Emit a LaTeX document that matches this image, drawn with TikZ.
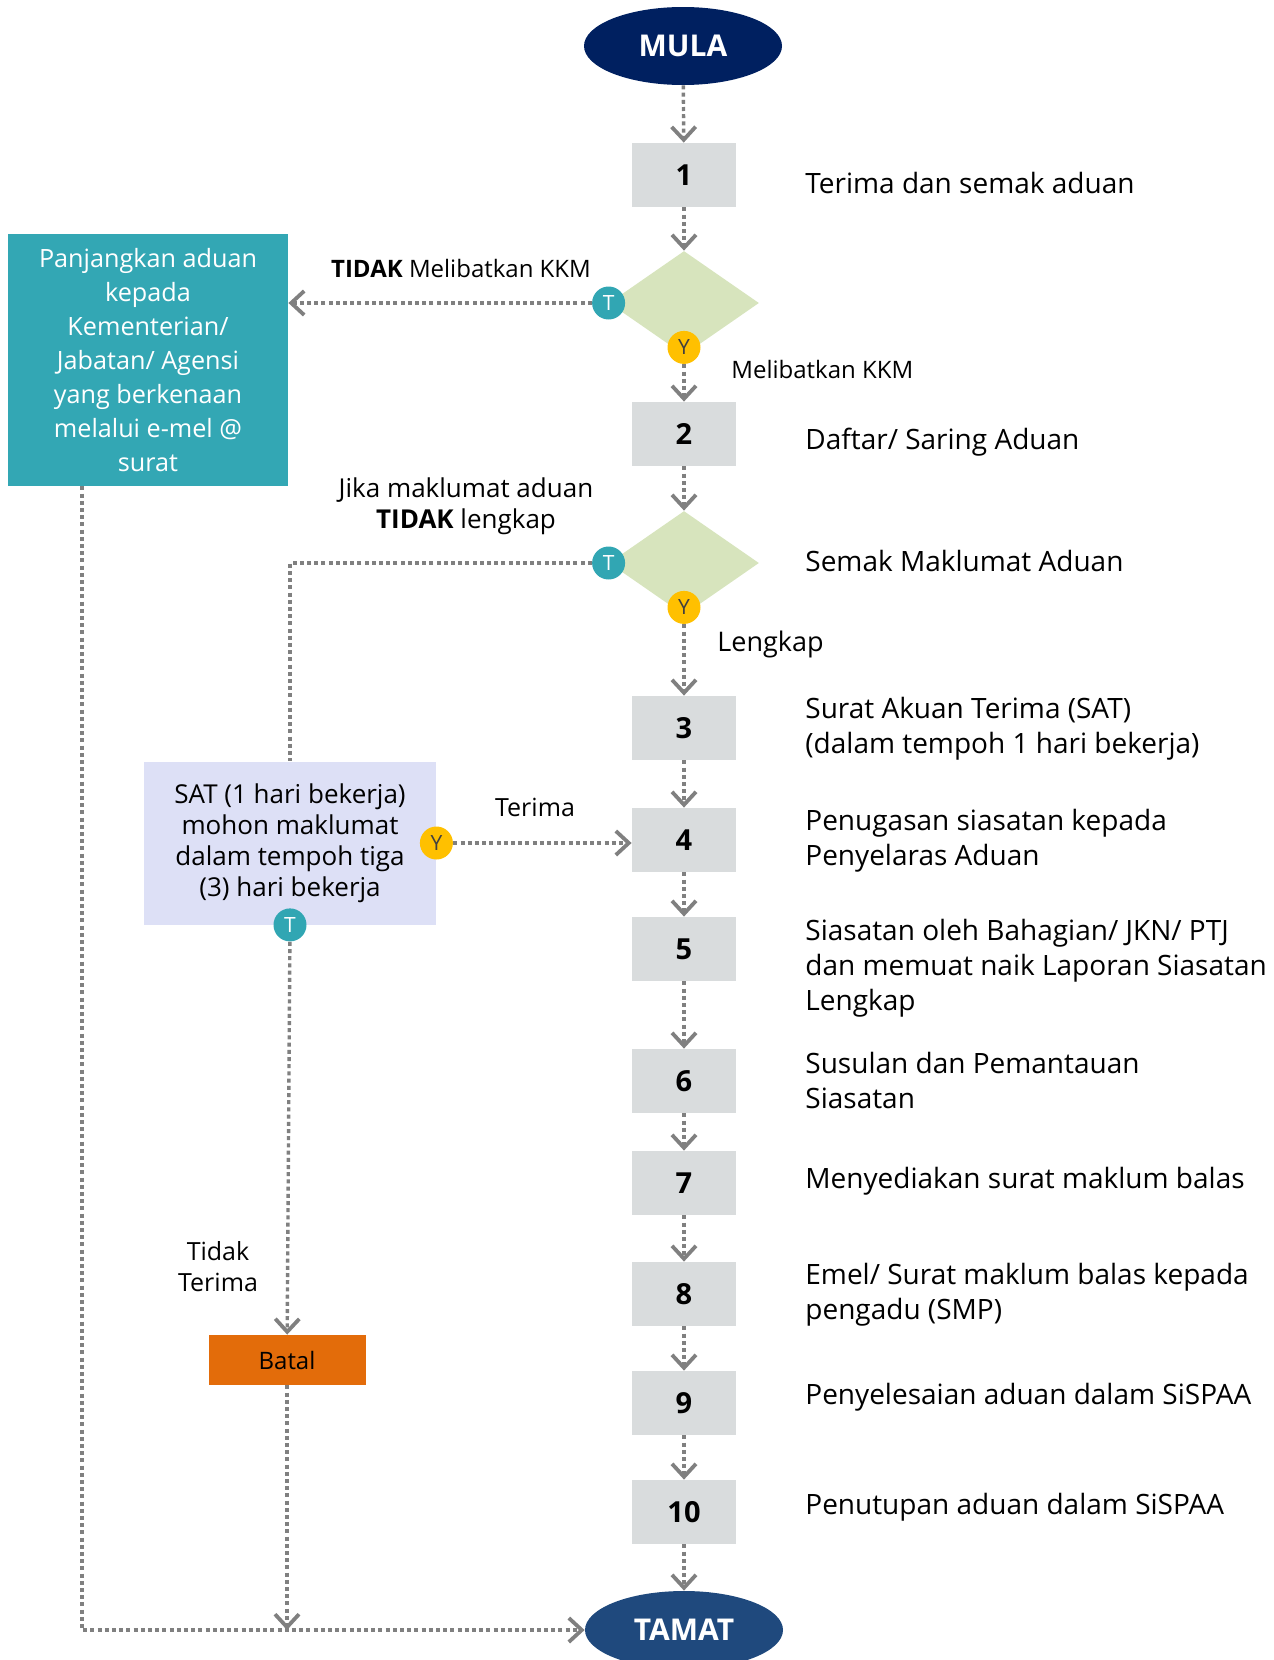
\documentclass[tikz,border=0pt]{standalone}
\usepackage{fontspec}
\setmainfont{Open Sans}
\usetikzlibrary{positioning}
\usetikzlibrary{shapes.geometric}
\usetikzlibrary{arrows.meta}
\definecolor{mulablue}{RGB}{0,32,96}
\definecolor{tamatblue}{RGB}{31,73,125}
\definecolor{boxgrey}{RGB}{217,220,221}
\definecolor{diagreen}{RGB}{215,228,189}
\definecolor{tealfill}{RGB}{51,167,180}
\definecolor{notteal}{RGB}{49,166,179}
\definecolor{yesgold}{RGB}{255,192,0}
\definecolor{satfill}{RGB}{221,224,246}
\definecolor{batalfill}{RGB}{227,108,10}
\definecolor{flowgrey}{RGB}{128,128,128}

\begin{document}
\begin{tikzpicture}[x=0.5pt,y=-0.5pt]
		\tikzset{>={Straight Barb[length=6.5pt,width=12pt,line width=1.9pt]}}
		\tikzset{
			flow/.style={draw=flowgrey,line width=1.7pt,dash pattern=on 2pt off 1.6pt},
			endpoint/.style={ellipse,text=white,minimum width=99pt,minimum height=39pt,inner sep=0pt,font=\fontsize{15}{18}\selectfont\bfseries},
			stepbox/.style={fill=boxgrey,minimum width=52pt,minimum height=32pt,inner sep=0pt,font=\fontsize{14.5}{18}\selectfont\bfseries},
			decision/.style={diamond,fill=diagreen,minimum width=75pt,minimum height=52pt,inner sep=0pt},
			tdot/.style={circle,fill=notteal,text=white,minimum size=16.5pt,inner sep=0pt,font=\fontsize{10.5}{10}\selectfont},
			ydot/.style={circle,fill=yesgold,text=black!75,minimum size=16.5pt,inner sep=0pt,font=\fontsize{10.5}{10}\selectfont},
			desc/.style={anchor=west,align=left,inner sep=0pt,font=\fontsize{14}{17.5}\selectfont},
			note/.style={align=center,inner sep=0pt,font=\fontsize{12.5}{15.5}\selectfont}
		}
		\useasboundingbox (0,0) rectangle (1274,1660);
		
		% main column
		\node[endpoint,fill=mulablue] (mula) at (683,46) {MULA};
		\node[stepbox] (s1) at (684,175) {1};
		\node[decision] (d1) at (684,303) {};
		\node[stepbox] (s2) at (684,434) {2};
		\node[decision] (d2) at (684,563) {};
		\node[stepbox] (s3) at (684,728) {3};
		\node[stepbox] (s4) at (684,840) {4};
		\node[stepbox] (s5) at (684,949) {5};
		\node[stepbox] (s6) at (684,1081) {6};
		\node[stepbox] (s7) at (684,1183) {7};
		\node[stepbox] (s8) at (684,1294) {8};
		\node[stepbox] (s9) at (684,1403) {9};
		\node[stepbox] (s10) at (684,1512) {10};
		\node[endpoint,fill=tamatblue] (tamat) at (684,1630) {TAMAT};
		
		% side boxes
		\node[fill=tealfill,text=white,minimum width=140pt,minimum height=126pt,inner sep=0pt,align=center,
			font=\fontsize{12.6}{17}\selectfont] (teal) at (148,360)
			{Panjangkan aduan\\kepada\\Kementerian/\\Jabatan/ Agensi\\yang berkenaan\\melalui e-mel @\\surat};
		\node[fill=satfill,minimum width=146pt,minimum height=81.5pt,inner sep=0pt,align=center,
			font=\fontsize{13}{15.5}\selectfont] (sat) at (290,843)
			{SAT (1 hari bekerja)\\mohon maklumat\\dalam tempoh tiga\\(3) hari bekerja};
		\node[fill=batalfill,minimum width=78.5pt,minimum height=25pt,inner sep=0pt,
			font=\fontsize{12}{14}\selectfont] (batal) at (287,1360) {Batal};
		
		% T / Y markers
		\node[tdot] (d1t) at (d1.west) {T};
		\node[ydot] (d1y) at ([yshift=4pt]d1.south) {Y};
		\node[tdot] (d2t) at (d2.west) {T};
		\node[ydot] (d2y) at ([yshift=4pt]d2.south) {Y};
		\node[ydot] (saty) at (sat.east) {Y};
		\node[tdot] (satt) at (sat.south) {T};
		
		% connectors
		\draw[flow,->] (mula) -- (s1);
		\draw[flow,->] (s1) -- (d1);
		\draw[flow,->] (d1t) -- (d1t -| teal.east);
		\draw[flow,->] (d1y) -- (s2);
		\draw[flow,->] (s2) -- (d2);
		\draw[flow] (d2t) -| (sat);
		\draw[flow,->] (d2y) -- (s3);
		\foreach \a/\b in {s3/s4,s4/s5,s5/s6,s6/s7,s7/s8,s8/s9,s9/s10,s10/tamat}
			\draw[flow,->] (\a) -- (\b);
		\draw[flow,->] (saty) -- (saty -| s4.west);
		\draw[flow,->] (satt) -- (batal);
		\draw[flow,->] (batal) -- (batal |- tamat);
		\draw[flow,->] ([xshift=-33pt]teal.south) |- (tamat);
		
		% descriptions
		\node[desc] (t1) at (805,183) {Terima dan semak aduan};
		\node[desc] (t2) at (805,442) {Daftar/ Saring Aduan};
		\node[desc] (t2b) at (805,561) {Semak Maklumat Aduan};
		\node[desc] (t3) at (805,729) {Surat Akuan Terima (SAT)\\(dalam tempoh 1 hari bekerja)};
		\node[desc] (t4) at (805,841) {Penugasan siasatan kepada\\Penyelaras Aduan};
		\node[desc] (t5) at (805,968) {Siasatan oleh Bahagian/ JKN/ PTJ\\dan memuat naik Laporan Siasatan\\Lengkap};
		\node[desc] (t6) at (805,1080) {Susulan dan Pemantauan\\Siasatan};
		\node[desc] (t7) at (805,1181) {Menyediakan surat maklum balas};
		\node[desc] (t8) at (805,1295) {Emel/ Surat maklum balas kepada\\pengadu (SMP)};
		\node[desc] (t9) at (805,1397) {Penyelesaian aduan dalam SiSPAA};
		\node[desc] (t10) at (805,1507) {Penutupan aduan dalam SiSPAA};
		
		% branch labels
		\node[note,font=\fontsize{12}{15}\selectfont] (tidakkkm) at (461,268) {\textbf{TIDAK} Melibatkan KKM};
		\node[note,anchor=west,font=\fontsize{12}{15}\selectfont] (kkm) at (731,369) {Melibatkan KKM};
		\node[note,font=\fontsize{13}{15.5}\selectfont] (tidaklengkap) at (466,506) {Jika maklumat aduan\\\textbf{TIDAK} lengkap};
		\node[note,anchor=west,font=\fontsize{13.5}{16}\selectfont] (lengkap) at (717,644) {Lengkap};
		\node[note] (terima) at (535,807) {Terima};
		\node[note] (tidakterima) at (218,1267) {Tidak\\Terima};
		
		\end{tikzpicture}
\end{document}
